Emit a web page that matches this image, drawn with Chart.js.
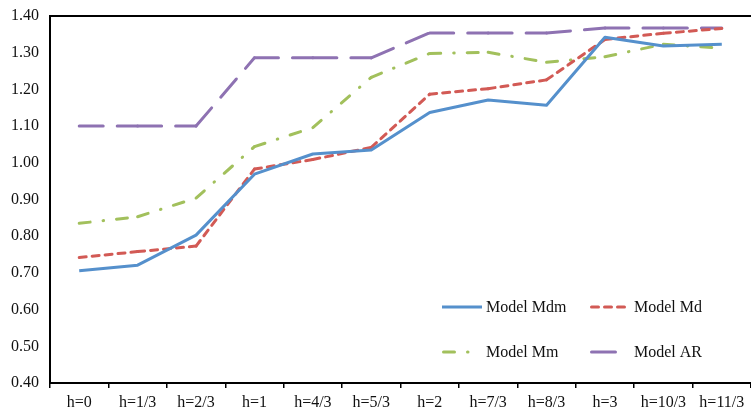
<!DOCTYPE html>
<html>
<head>
<meta charset="utf-8">
<script src="https://cdn.jsdelivr.net/npm/chart.js@4/dist/chart.umd.min.js"></script>
<style>
  html, body { margin: 0; padding: 0; background: #ffffff; }
  #wrap { width: 751px; height: 411px; position: relative; }
</style>
</head>
<body>
<div id="wrap"><canvas id="c" width="751" height="411"></canvas></div>
<script>
const categories = ["h=0", "h=1/3", "h=2/3", "h=1", "h=4/3", "h=5/3", "h=2", "h=7/3", "h=8/3", "h=3", "h=10/3", "h=11/3"];
const modelMdm = [0.706, 0.721, 0.803, 0.969, 1.024, 1.035, 1.137, 1.171, 1.157, 1.342, 1.318, 1.323];
const modelMd  = [0.742, 0.758, 0.773, 0.983, 1.009, 1.042, 1.187, 1.202, 1.226, 1.336, 1.353, 1.366];
const modelMm  = [0.835, 0.853, 0.904, 1.044, 1.096, 1.233, 1.298, 1.301, 1.274, 1.289, 1.323, 1.312];
const modelAR  = [1.100, 1.100, 1.100, 1.286, 1.286, 1.286, 1.354, 1.354, 1.354, 1.367, 1.367, 1.367];
const seriesNames = ["Model Mdm", "Model Md", "Model Mm", "Model AR"];
const yTicks = { min: 0.4, max: 1.4, step: 0.1 };

const FONT = "'Liberation Serif', 'Times New Roman', serif";
const colors = ["#5590CC", "#D25A55", "#A2C05C", "#8E72B2"];
const dashes = [[], [7, 6], [11, 13, 0.5, 13], [24, 14]];

function periodOf(d) { return d.reduce((a, b) => a + b, 0); }

// Alternate an equivalent dash offset so each segment is stroked separately (pattern restarts at each vertex)
function restartSegments(d) {
  const p = periodOf(d);
  return {
    borderDash: d,
    borderDashOffset: ctx => (ctx.p0DataIndex % 2 ? p : 0)
  };
}

function makeDataset(i, data) {
  const ds = {
    label: seriesNames[i],
    data: data,
    borderColor: colors[i],
    backgroundColor: colors[i],
    borderWidth: 3,
    borderDash: dashes[i],
    borderCapStyle: dashes[i].length ? 'round' : 'butt',
    borderJoinStyle: 'round',
    pointRadius: 0,
    pointHoverRadius: 0,
    tension: 0,
    fill: false
  };
  if (dashes[i].length) ds.segment = restartSegments(dashes[i]);
  return ds;
}

const legendPlugin = {
  id: 'customLegend',
  afterDraw(chart) {
    const ctx = chart.ctx;
    const items = [
      { i: 0, x: 442, y: 307 },
      { i: 1, x: 590, y: 307 },
      { i: 2, x: 442, y: 352 },
      { i: 3, x: 590, y: 352 }
    ];
    ctx.save();
    items.forEach(it => {
      const ds = chart.data.datasets[it.i];
      ctx.beginPath();
      ctx.strokeStyle = ds.borderColor;
      ctx.lineWidth = 3;
      ctx.lineCap = ds.borderCapStyle;
      ctx.setLineDash(ds.borderDash || []);
      ctx.lineDashOffset = 0;
      const x0 = it.x + (ds.borderCapStyle === 'round' ? 1.5 : 0);
      const x1 = it.x + 40 - (ds.borderCapStyle === 'round' ? 1.5 : 0);
      ctx.moveTo(x0, it.y);
      ctx.lineTo(x1, it.y);
      ctx.stroke();
      ctx.setLineDash([]);
      ctx.fillStyle = '#111111';
      ctx.font = "16px " + FONT;
      ctx.textBaseline = 'middle';
      ctx.textAlign = 'left';
      ctx.fillText(ds.label, it.x + 44, it.y + 1);
    });
    ctx.restore();
  }
};

new Chart(document.getElementById('c'), {
  type: 'line',
  data: {
    labels: categories,
    datasets: [
      makeDataset(0, modelMdm),
      makeDataset(1, modelMd),
      makeDataset(2, modelMm),
      makeDataset(3, modelAR)
    ]
  },
  options: {
    responsive: false,
    animation: false,
    events: [],
    layout: { padding: { top: 16, right: -3, bottom: 0, left: 0 } },
    plugins: {
      legend: { display: false },
      tooltip: { enabled: false },
      title: { display: false }
    },
    scales: {
      x: {
        type: 'category',
        offset: true,
        grid: {
          display: true,
          offset: true,
          drawOnChartArea: false,
          drawTicks: true,
          tickLength: 5,
          color: '#000000',
          lineWidth: 1.5
        },
        border: { display: true, color: '#000000', width: 2 },
        ticks: {
          color: '#111111',
          font: { family: FONT, size: 16 },
          padding: 5,
          maxRotation: 0,
          autoSkip: false
        },
        afterFit(scale) { scale.height = 28; }
      },
      y: {
        min: yTicks.min,
        max: yTicks.max,
        grid: {
          display: true,
          drawTicks: false,
          color: ctx => (ctx.tick && Math.abs(ctx.tick.value - yTicks.max) < 1e-9 ? '#000000' : 'rgba(0,0,0,0)'),
          lineWidth: 2
        },
        border: { display: true, color: '#000000', width: 2 },
        ticks: {
          stepSize: yTicks.step,
          color: '#111111',
          font: { family: FONT, size: 16 },
          padding: 11,
          callback: v => Number(v).toFixed(2)
        },
        afterFit(scale) {
          scale.width = 50;
          scale.paddingTop = 10;
          scale.paddingBottom = 10;
        }
      }
    }
  },
  plugins: [legendPlugin]
});
</script>
</body>
</html>
